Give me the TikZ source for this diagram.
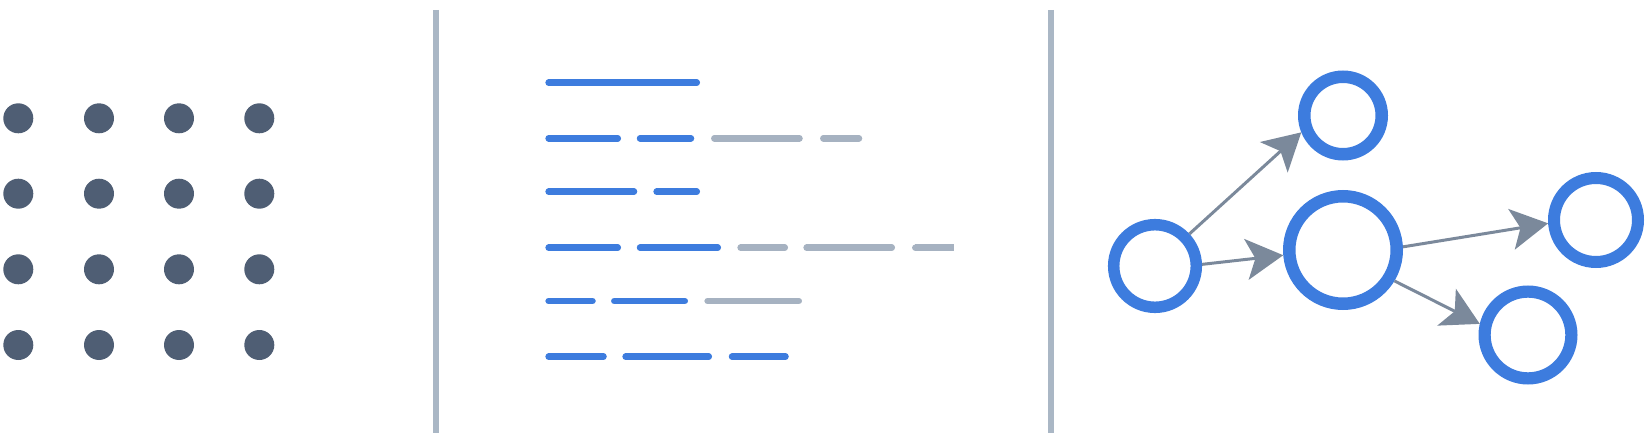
\documentclass[tikz,border=0pt]{standalone}
\usetikzlibrary{arrows.meta}
\definecolor{nodeblue}{RGB}{61,124,222}
\definecolor{dotgray}{RGB}{79,94,116}
\definecolor{linegray}{RGB}{166,178,193}
\definecolor{sepgray}{RGB}{170,183,197}
\definecolor{arrowgray}{RGB}{123,137,155}
\tikzset{
  dotstyle/.style={fill=dotgray},
  sepline/.style={draw=sepgray, line width=6pt, line cap=butt},
  bluebar/.style={draw=nodeblue, line width=6.5pt, line cap=round},
  graybar/.style={draw=linegray, line width=6.5pt, line cap=round},
  ring/.style={circle, draw=nodeblue, fill=white, inner sep=0pt},
  edge/.style={draw=arrowgray, line width=3pt, -{Stealth[length=37pt, width=41pt, inset=9pt]}}
}
\begin{document}
\begin{tikzpicture}[x=1pt,y=-1pt]
\useasboundingbox (0,0) rectangle (1650,441);
% dot grid
\foreach \x in {18.3,99,179,259.3}{
  \foreach \y in {118.3,193.7,269.3,345}{
    \fill[dotstyle] (\x,\y) circle (15);
  }
}
% separators
\draw[sepline] (436,10) -- (436,433);
\draw[sepline] (1051,10) -- (1051,433);
% text lines
\draw[bluebar] (548.6,82.7) -- (696.8,82.7);
% row 2
\draw[bluebar] (548.6,138.3) -- (617.8,138.3);
\draw[bluebar] (640,138.3) -- (691,138.3);
\draw[graybar] (714.3,138.3) -- (799.5,138.3);
\draw[graybar] (823.3,138.3) -- (859,138.3);
% row 3
\draw[bluebar] (548.6,191.7) -- (634,191.7);
\draw[bluebar] (656.6,191.7) -- (696.8,191.7);
% row 4
\draw[bluebar] (548.6,247.7) -- (617.8,247.7);
\draw[bluebar] (640,247.7) -- (717.8,247.7);
\draw[graybar] (740.6,247.7) -- (784.8,247.7);
\draw[graybar] (806.6,247.7) -- (891.8,247.7);
\draw[graybar, line cap=butt] (915.3,247.7) -- (954,247.7);
\fill[linegray] (915.3,247.7) circle (3.25);
% row 5
\draw[bluebar] (548.6,301) -- (592.5,301);
\draw[bluebar] (614.3,301) -- (684.8,301);
\draw[graybar] (707.6,301) -- (798.8,301);
% row 6
\draw[bluebar] (548.6,356.7) -- (603.5,356.7);
\draw[bluebar] (625.6,356.7) -- (708.8,356.7);
\draw[bluebar] (732,356.7) -- (785.5,356.7);
% graph
\node[ring, line width=11.5pt, minimum size=82.6pt] (A) at (1155,266) {};
\node[ring, line width=12.5pt, minimum size=77.5pt] (B) at (1343,115.5) {};
\node[ring, line width=12.5pt, minimum size=107.5pt] (C) at (1343,250) {};
\node[ring, line width=12pt, minimum size=84pt] (D) at (1596,220) {};
\node[ring, line width=12.2pt, minimum size=86.8pt] (E) at (1528,335) {};
\draw[edge] (A.43) -- (B.202);
\draw[edge] (A.2.4) -- (C.185.6);
\draw[edge] (C.3) -- (D.184.6);
\draw[edge] (C.-31.4) -- (E.167.6);
\end{tikzpicture}
\end{document}
